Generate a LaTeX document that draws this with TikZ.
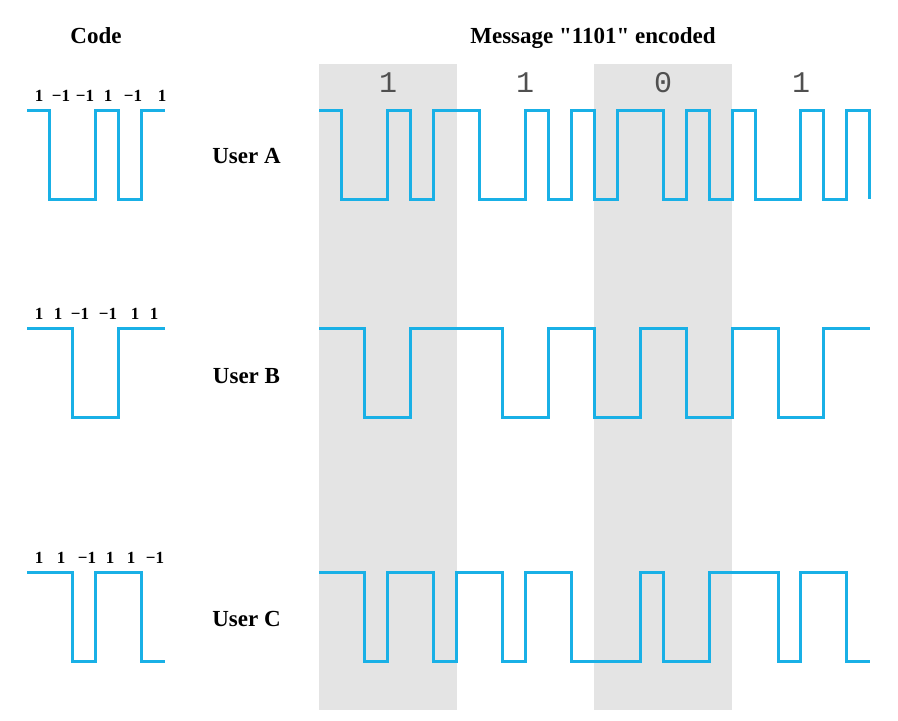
\documentclass[tikz,border=0pt]{standalone}
\usepackage{fontspec}
\setmainfont{Liberation Serif}
\newfontfamily\plainserif{Liberation Serif}
\newfontfamily\bitfont{Liberation Mono}
\definecolor{wave}{RGB}{25,176,230}
\definecolor{band}{RGB}{228,228,228}
\definecolor{bitgray}{RGB}{80,80,80}
\tikzset{
  wavepath/.style={draw=wave, line width=3pt, line join=miter},
  bandbox/.style={fill=band, draw=none},
  title/.style={font=\fontsize{23}{23}\selectfont\plainserif\bfseries, anchor=base, inner sep=0pt},
  userlbl/.style={font=\fontsize{23}{23}\selectfont\plainserif\bfseries, anchor=base, inner sep=0pt},
  chiplbl/.style={font=\fontsize{17}{17}\selectfont\plainserif\bfseries, anchor=base, inner sep=0pt},
  bitlbl/.style={font=\fontsize{30}{30}\selectfont\bitfont, text=bitgray, anchor=base, inner sep=0pt}
}
\begin{document}
\begin{tikzpicture}[x=1pt, y=-1pt]
\useasboundingbox[fill=white] (0,0) rectangle (898,721);
% shaded bands
\fill[bandbox] (319,64) rectangle (456.7,710);
\fill[bandbox] (594.4,64) rectangle (732.1,710);
% titles
\node[title] (code) at (96,43) {Code};
\node[title] (msg) at (593,43) {Message "1101" encoded};
% bit labels
\node[bitlbl] (b1) at (388,92) {1};
\node[bitlbl] (b2) at (525,92) {1};
\node[bitlbl] (b3) at (663,92) {0};
\node[bitlbl] (b4) at (801,92) {1};
% user labels
\node[userlbl] (ua) at (246.5,163) {User A};
\node[userlbl] (ub) at (246.5,383) {User B};
\node[userlbl] (uc) at (246.5,626) {User C};
% chip labels A
\node[chiplbl] (a1) at (39,101) {1};
\node[chiplbl] (a2) at (61,101) {−1};
\node[chiplbl] (a3) at (85,101) {−1};
\node[chiplbl] (a4) at (108,101) {1};
\node[chiplbl] (a5) at (133,101) {−1};
\node[chiplbl] (a6) at (162,101) {1};
% chip labels B
\node[chiplbl] (bb1) at (39,319) {1};
\node[chiplbl] (bb2) at (58,319) {1};
\node[chiplbl] (bb3) at (80,319) {−1};
\node[chiplbl] (bb4) at (108,319) {−1};
\node[chiplbl] (bb5) at (135,319) {1};
\node[chiplbl] (bb6) at (154,319) {1};
% chip labels C
\node[chiplbl] (c1) at (39,563) {1};
\node[chiplbl] (c2) at (61,563) {1};
\node[chiplbl] (c3) at (87,563) {−1};
\node[chiplbl] (c4) at (110,563) {1};
\node[chiplbl] (c5) at (131,563) {1};
\node[chiplbl] (c6) at (155,563) {−1};
% code waveforms (left)
\begin{scope}[xshift=27pt, x=22.95pt]
\draw[wavepath] (0,110) -- (1,110) -- (1,199) -- (3,199) -- (3,110) -- (4,110) -- (4,199) -- (5,199) -- (5,110) -- (6,110);
\draw[wavepath] (0,328) -- (2,328) -- (2,417) -- (4,417) -- (4,328) -- (6,328);
\draw[wavepath] (0,572) -- (2,572) -- (2,661) -- (3,661) -- (3,572) -- (5,572) -- (5,661) -- (6,661);
\end{scope}
% message waveforms
\begin{scope}[xshift=319pt, x=22.95pt]
\draw[wavepath] (0,110) -- (1,110) -- (1,199) -- (3,199) -- (3,110) -- (4,110) -- (4,199) -- (5,199) -- (5,110) -- (7,110)
  -- (7,199) -- (9,199) -- (9,110) -- (10,110) -- (10,199) -- (11,199) -- (11,110) -- (12,110)
  -- (12,199) -- (13,199) -- (13,110) -- (15,110) -- (15,199) -- (16,199) -- (16,110) -- (17,110) -- (17,199) -- (18,199)
  -- (18,110) -- (19,110) -- (19,199) -- (21,199) -- (21,110) -- (22,110) -- (22,199) -- (23,199) -- (23,110) -- (24,110) -- (24,199);
\draw[wavepath] (0,328) -- (2,328) -- (2,417) -- (4,417) -- (4,328) -- (8,328) -- (8,417) -- (10,417) -- (10,328) -- (12,328)
  -- (12,417) -- (14,417) -- (14,328) -- (16,328) -- (16,417) -- (18,417) -- (18,328) -- (20,328) -- (20,417) -- (22,417) -- (22,328) -- (24,328);
\draw[wavepath] (0,572) -- (2,572) -- (2,661) -- (3,661) -- (3,572) -- (5,572) -- (5,661) -- (6,661) -- (6,572) -- (8,572)
  -- (8,661) -- (9,661) -- (9,572) -- (11,572) -- (11,661) -- (14,661) -- (14,572) -- (15,572) -- (15,661) -- (17,661)
  -- (17,572) -- (20,572) -- (20,661) -- (21,661) -- (21,572) -- (23,572) -- (23,661) -- (24,661);
\end{scope}
\end{tikzpicture}
\end{document}
